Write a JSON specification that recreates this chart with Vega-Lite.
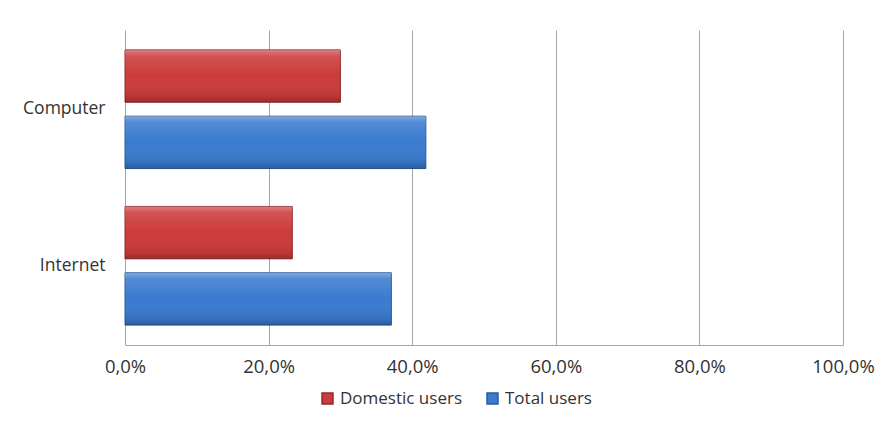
{
  "$schema": "https://vega.github.io/schema/vega-lite/v6.json",
  "width": 718,
  "height": 315,
  "autosize": {"type": "none"},
  "padding": {"left": 125, "top": 30, "right": 43, "bottom": 76},
  "background": "white",
  "data": {"values": [
    {"item": "Computer", "series": "Domestic users", "value": 0.300},
    {"item": "Computer", "series": "Total users", "value": 0.419},
    {"item": "Internet", "series": "Domestic users", "value": 0.233},
    {"item": "Internet", "series": "Total users", "value": 0.371}
  ]},
  "encoding": {
    "y": {
      "field": "item", "type": "nominal", "sort": ["Computer", "Internet"],
      "scale": {"paddingInner": 0.242, "paddingOuter": 0.127},
      "axis": {"title": null, "domain": false, "ticks": false, "grid": false, "labelPadding": 20,
               "labelFont": "Open Sans", "labelFontSize": 17.5, "labelColor": "#333333"}
    },
    "yOffset": {
      "field": "series", "type": "nominal", "sort": ["Domestic users", "Total users"],
      "scale": {"paddingInner": 0.21, "paddingOuter": 0}
    },
    "x": {
      "field": "value", "type": "quantitative",
      "scale": {"domain": [0, 1], "nice": false},
      "axis": {"title": null, "values": [0, 0.2, 0.4, 0.6, 0.8, 1.0], "grid": true, "gridColor": "#A6A6A6",
               "domain": true, "domainColor": "#A6A6A6", "ticks": false, "labelPadding": 12,
               "labelFlush": false,
               "labelExpr": "replace(format(datum.value, '.1%'), '.', ',')",
               "labelFont": "Open Sans", "labelFontSize": 18.5, "labelColor": "#333333"}
    }
  },
  "layer": [
    {
      "mark": {"type": "bar", "strokeWidth": 1},
      "encoding": {
        "color": {
          "field": "series", "type": "nominal",
          "scale": {"domain": ["Domestic users", "Total users"], "range": ["#CC3B3B", "#3A7BCF"]},
          "legend": {"orient": "none", "legendX": 194, "legendY": 360, "direction": "horizontal",
                     "title": null, "symbolType": "square", "symbolSize": 120, "symbolOpacity": 1,
                     "labelFont": "Open Sans", "labelFontSize": 17, "labelColor": "#333333", "columnPadding": 22}
        },
        "stroke": {
          "field": "series", "type": "nominal",
          "scale": {"domain": ["Domestic users", "Total users"], "range": ["#8E2A2A", "#2A5A9A"]},
          "legend": null
        }
      }
    },
    {
      "mark": {
        "type": "bar",
        "fill": {
          "gradient": "linear", "x1": 0, "y1": 0, "x2": 0, "y2": 1,
          "stops": [
            {"offset": 0, "color": "rgba(255,255,255,0.35)"},
            {"offset": 0.12, "color": "rgba(255,255,255,0.12)"},
            {"offset": 0.5, "color": "rgba(255,255,255,0.0)"},
            {"offset": 0.88, "color": "rgba(0,0,0,0.08)"},
            {"offset": 1, "color": "rgba(0,0,0,0.25)"}
          ]
        }
      }
    }
  ],
  "config": {"view": {"stroke": null}}
}
